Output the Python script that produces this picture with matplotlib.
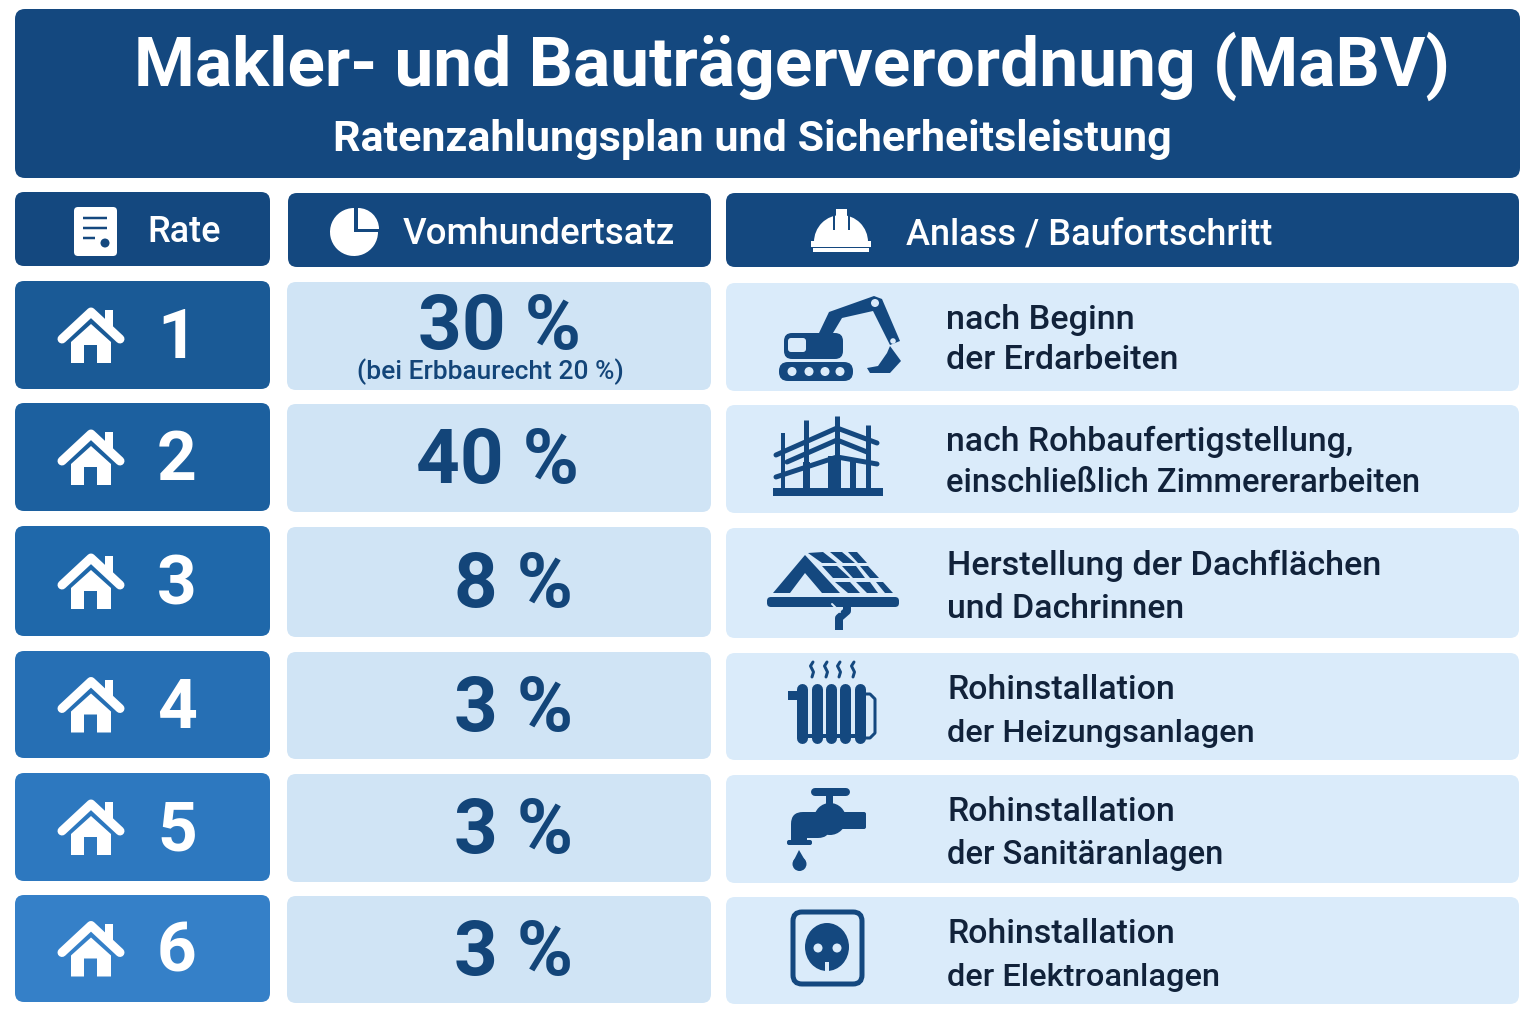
import matplotlib
matplotlib.use('Agg')
import matplotlib.pyplot as plt
from matplotlib.patches import FancyBboxPatch, Polygon, Circle, Wedge, Rectangle, Ellipse

plt.rcParams['font.family'] = ['Roboto', 'Noto Sans', 'DejaVu Sans']

title = "Makler- und Bauträgerverordnung (MaBV)"
subtitle = "Ratenzahlungsplan und Sicherheitsleistung"
headers = ["Rate", "Vomhundertsatz", "Anlass / Baufortschritt"]
rates = ["1", "2", "3", "4", "5", "6"]
percents = ["30 %", "40 %", "8 %", "3 %", "3 %", "3 %"]
percent_note = "(bei Erbbaurecht 20 %)"
events = [
    ["nach Beginn", "der Erdarbeiten"],
    ["nach Rohbaufertigstellung,", "einschließlich Zimmererarbeiten"],
    ["Herstellung der Dachflächen", "und Dachrinnen"],
    ["Rohinstallation", "der Heizungsanlagen"],
    ["Rohinstallation", "der Sanitäranlagen"],
    ["Rohinstallation", "der Elektroanlagen"],
]

NAVY = '#14487f'
INK = '#134579'
PALE = '#daebfa'
row_top = [281, 403, 526, 651, 773, 895]
row_bot = [389, 511, 636, 758, 881, 1002]
rate_cols = ['#1a5a96', '#1c609f', '#1f68aa', '#266fb4', '#2d78bf', '#3580c8']
# line offsets and font sizes of the right column, row by row
line1_off = [39, 39, 40, 39, 39, 39]
line2_off = [79, 80, 83, 82, 82, 82]
line1_size = [24.6, 24.4, 24.6, 24.4, 24.4, 24.4]
line2_size = [24.4, 23.6, 24.4, 23.4, 23.6, 23.4]

fig = plt.figure(figsize=(15.36, 10.24), dpi=100)
ax = fig.add_axes([0, 0, 1, 1])
ax.set_xlim(0, 1536)
ax.set_ylim(1024, 0)
ax.axis('off')


def box(x0, y0, x1, y1, col, r=9, z=2):
    ax.add_patch(FancyBboxPatch((x0 + r, y0 + r), x1 - x0 - 2 * r, y1 - y0 - 2 * r,
                                boxstyle='round,pad=%d,rounding_size=%d' % (r, r),
                                fc=col, ec='none', zorder=z))


def poly(pts, col, ox=0, oy=0, z=3):
    ax.add_patch(Polygon([(ox + a, oy + b) for a, b in pts], closed=True, fc=col, ec='none', zorder=z))


def line(pts, col, w, ox=0, oy=0, z=3, cap='round'):
    # w is in pixels
    ax.plot([ox + a for a, b in pts], [oy + b for a, b in pts], color=col, lw=w * 0.72,
            solid_capstyle=cap, solid_joinstyle='round', zorder=z)


def rect(x, y, w, h, col, z=3):
    ax.add_patch(Rectangle((x, y), w, h, fc=col, ec='none', zorder=z))


def dot(x, y, r, col, z=4):
    ax.add_patch(Circle((x, y), r, fc=col, ec='none', zorder=z))


def house(cx, cy):
    rect(cx + 14, cy - 26, 8, 18, 'white')
    line([(-29, 3), (0, -24), (29, 3)], 'white', 9, cx, cy)
    poly([(-20, 6), (0, -12), (20, 6), (20, 27), (6, 27), (6, 9), (-7, 9), (-7, 27), (-20, 27)], 'white', cx, cy)


def excavator(ox, oy):
    box(ox + 29, oy + 81, ox + 103, oy + 100, NAVY, 9, z=3)
    for dx in [42, 59, 75, 90]:
        dot(ox + dx, oy + 90.5, 4.5, PALE)
    box(ox + 34, oy + 52, ox + 93, oy + 78, NAVY, 8, z=3)
    box(ox + 38, oy + 57, ox + 56, oy + 71, PALE, 3, z=4)
    poly([(69, 52), (79, 31), (124, 15), (132, 18), (150, 60), (140, 64), (123, 30), (92, 37), (83, 52)], NAVY, ox, oy)
    dot(ox + 125, oy + 22, 4, PALE)
    poly([(140, 65), (151, 80), (140, 92), (120, 92), (117, 87), (128, 85), (137, 72)], NAVY, ox, oy)
    dot(ox + 143, oy + 60, 2.8, PALE)


def scaffold(ox, oy):
    rect(ox + 23, oy + 208, 110, 8, NAVY)
    for x, t, w in [(33, 153, 4), (56, 140, 5), (87, 136, 5), (118, 145, 5)]:
        line([(x, t), (x, 208)], NAVY, w, ox, oy, cap='butt')
    rect(ox + 53, oy + 182, 7, 27, NAVY)
    rect(ox + 78, oy + 176, 13, 33, NAVY)
    rect(ox + 100, oy + 180, 6, 29, NAVY)
    beams = [[(26, 175), (87, 148), (127, 163)], [(37, 182), (87, 160), (117, 172)], [(26, 197), (87, 177), (127, 184)]]
    for b in beams:
        line(b, NAVY, 5, ox, oy)


def solar_roof(ox, oy):
    poly([(23, 78), (55, 40), (90, 78), (72, 78), (55, 58), (40, 78)], NAVY, ox, oy)
    cells = [
        [(58, 38), (73, 37), (87, 48), (72, 48)], [(80, 37), (92, 37), (105, 48), (93, 48)], [(98, 37), (107, 37), (117, 48), (108, 48)],
        [(72, 51), (87, 51), (100, 63), (83, 63)], [(92, 51), (106, 51), (115, 63), (103, 63)], [(110, 51), (118, 51), (129, 63), (120, 63)],
        [(85, 67), (100, 67), (110, 78), (98, 78)], [(106, 67), (120, 67), (128, 78), (117, 78)], [(126, 67), (133, 67), (143, 78), (135, 78)],
    ]
    for c in cells:
        poly(c, NAVY, ox, oy)
    box(ox + 17, oy + 82, ox + 149, oy + 92, NAVY, 4, z=3)
    line([(97, 89), (97, 96), (89, 103), (89, 115)], NAVY, 8, ox, oy, cap='butt')
    line([(82, 89), (90, 97)], PALE, 2, ox, oy, z=4)


def radiator():
    for x in [802, 817, 831, 845, 860]:
        line([(x, 689), (x, 738)], NAVY, 11)
    rect(802, 734, 58, 4, NAVY)
    rect(788, 691, 10, 9, NAVY)
    line([(864, 694), (870, 694), (875, 699), (875, 733), (870, 738), (864, 738)], NAVY, 3)
    for x in [812, 826, 839, 853]:
        line([(x + 1, 662), (x - 1.5, 666), (x + 1.5, 672), (x, 677)], NAVY, 3)


def tap():
    line([(815, 792), (846, 792)], NAVY, 8)
    rect(826, 792, 7, 14, NAVY)
    dot(830, 819, 16, NAVY, z=3)
    box(830, 812, 866, 829, NAVY, 2, z=3)
    box(791, 812, 830, 838, NAVY, 12, z=3)
    rect(791, 824, 16, 17, NAVY)
    box(787, 840, 812, 845, NAVY, 2, z=3)
    poly([(799, 850), (793, 862), (806, 862)], NAVY)
    dot(799.5, 864, 7, NAVY, z=3)


def socket():
    ax.add_patch(FancyBboxPatch((799, 918), 57, 60, boxstyle='round,pad=6,rounding_size=9',
                                fc='none', ec=NAVY, lw=3.6, zorder=3))
    ax.add_patch(Ellipse((827, 947), 44, 48, fc=NAVY, ec='none', zorder=3))
    dot(818, 948, 4.5, PALE)
    dot(837, 948, 4.5, PALE)
    rect(825, 962, 4, 11, PALE, z=4)


def pct(x, y, s, size):
    ax.text(x, y, s, color=INK, fontsize=size, fontweight='bold', ha='center', va='center')


# banner
box(15, 9, 1520, 178, NAVY, 10)
ax.text(792, 66, title, color='white', fontsize=50, fontweight='bold', ha='center', va='center')
ax.text(752, 139, subtitle, color='white', fontsize=31, fontweight='bold', ha='center', va='center')

# header row
box(15, 192, 270, 266, NAVY)
box(288, 193, 711, 267, NAVY)
box(726, 193, 1519, 267, NAVY)
ax.text(184, 233, headers[0], color='white', fontsize=26, fontweight='medium', ha='center', va='center')
ax.text(539, 234, headers[1], color='white', fontsize=26.4, fontweight='medium', ha='center', va='center')
ax.text(1089, 235, headers[2], color='white', fontsize=26, fontweight='medium', ha='center', va='center')

# header icons
box(74, 207, 117, 256, 'white', 4, z=3)
for y, x1 in [(218, 107), (228, 107), (238, 95)]:
    line([(83, y), (x1, y)], NAVY, 2.5, cap='butt')
dot(105, 243, 4.5, NAVY)
ax.add_patch(Wedge((354, 232), 24, 0, 270, fc='white', ec='none', zorder=3))
ax.add_patch(Wedge((358, 229), 21, 270, 360, fc='white', ec='none', zorder=3))
ax.add_patch(Wedge((841, 242), 27, 180, 360, fc='white', ec='none', zorder=3))
rect(836, 209, 11, 18, 'white')
rect(833, 212, 2, 18, NAVY, z=4)
rect(848, 212, 2, 18, NAVY, z=4)
rect(811, 241, 60, 6, 'white')
rect(813, 248, 56, 4, 'white')

# table rows
for i in range(len(rates)):
    t, b = row_top[i], row_bot[i]
    mid = (t + b) / 2
    box(15, t, 270, b, rate_cols[i])
    box(287, t + 1, 711, b + 1, '#d0e4f5')
    box(726, t + 2, 1519, b + 2, PALE)
    house(91, mid + 1)
    ax.text(177, mid + 5, rates[i], color='white', fontsize=50, fontweight='bold', ha='center', va='center')
    if i == 0:
        pct(499, mid - 6, percents[i], 55)
        ax.text(490, 372, percent_note, color=INK, fontsize=19, fontweight='medium', ha='center', va='center')
    else:
        pct(514 if i > 1 else 498, mid + 6, percents[i], 55)
    x_txt = 946 if i < 2 else 947
    ax.text(x_txt, t + line1_off[i], events[i][0], color='#11223a', fontsize=line1_size[i], fontweight='medium', ha='left', va='center')
    ax.text(x_txt, t + line2_off[i], events[i][1], color='#11223a', fontsize=line2_size[i], fontweight='medium', ha='left', va='center')

excavator(750, 281)
scaffold(750, 280)
solar_roof(750, 515)
radiator()
tap()
socket()

fig.savefig('out.png', dpi=100)
